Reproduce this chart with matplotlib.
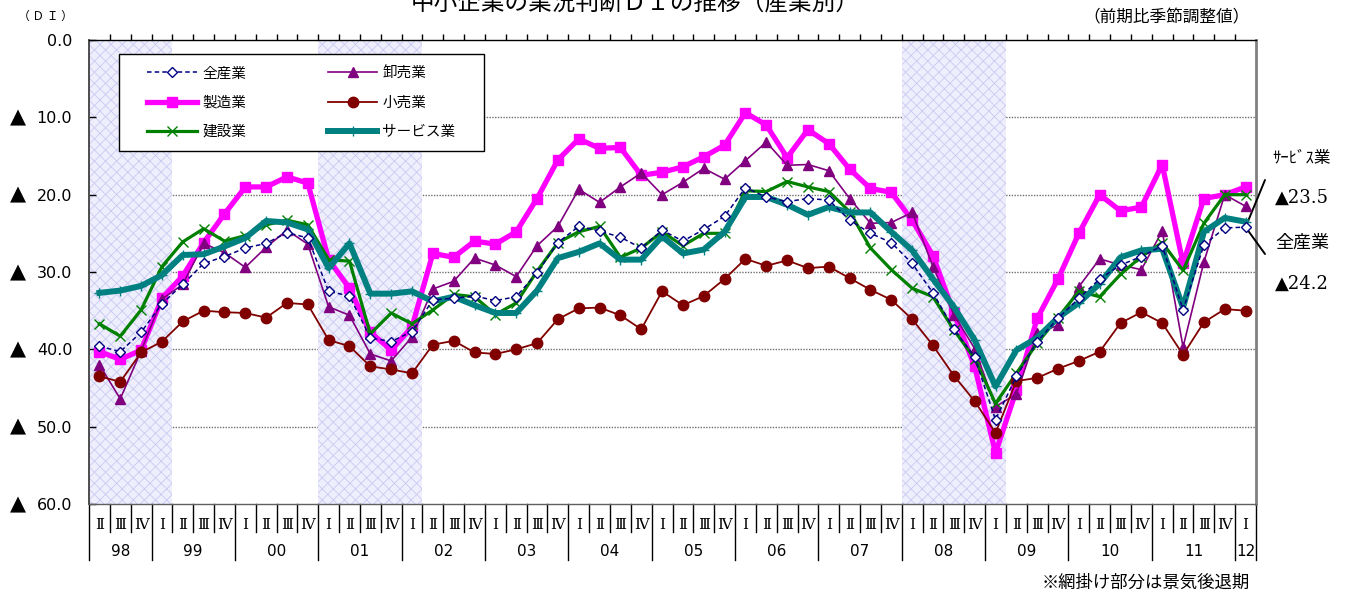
import matplotlib
matplotlib.use("Agg")
import matplotlib.pyplot as plt
import matplotlib.transforms as mtransforms
from matplotlib.patches import Rectangle
import numpy as np

plt.rcParams["font.family"] = ["Noto Sans CJK JP", "DejaVu Sans"]
plt.rcParams["hatch.linewidth"] = 0.6

# ---- categories: 1998 Q2 .. 2012 Q1 ----
year_labels = ["98", "99", "00", "01", "02", "03", "04", "05", "06", "07",
               "08", "09", "10", "11", "12"]
quarters_per_year = [3, 4, 4, 4, 4, 4, 4, 4, 4, 4, 4, 4, 4, 4, 1]
first_quarter = 2
quarter_numerals = ["Ⅰ", "Ⅱ", "Ⅲ", "Ⅳ"]

# recession periods (year label, quarter) .. (year label, quarter), inclusive
recessions = [("98", 2, "99", 1), ("01", 1, "02", 1), ("08", 1, "09", 1)]

# ---- business condition DI (seasonally adjusted) ----
all_industries = [39.6, 40.3, 37.8, 34.1, 31.6, 28.9, 28.0, 26.9, 26.3, 24.9,
                  25.6, 32.5, 33.1, 38.5, 39.0, 37.7, 33.6, 33.4, 33.1, 33.7,
                  33.2, 30.1, 26.2, 24.1, 24.7, 25.5, 26.9, 24.6, 26.0, 24.5,
                  22.8, 19.1, 20.3, 20.9, 20.5, 20.7, 23.3, 25.0, 26.2, 28.9,
                  32.7, 37.4, 41.0, 49.1, 43.5, 39.0, 36.0, 33.4, 30.9, 29.1,
                  28.0, 26.6, 34.9, 26.5, 24.3, 24.2]
manufacturing = [40.3, 41.3, 40.1, 33.4, 30.5, 26.2, 22.5, 19.0, 19.0, 17.7,
                 18.5, 28.4, 32.1, 37.8, 40.1, 37.1, 27.6, 28.1, 26.0, 26.4,
                 24.8, 20.5, 15.5, 12.8, 14.0, 13.9, 17.5, 17.1, 16.4, 15.1,
                 13.6, 9.4, 11.0, 15.2, 11.6, 13.4, 16.7, 19.2, 19.7, 23.3,
                 27.9, 35.3, 42.2, 53.4, 45.3, 36.0, 30.9, 25.0, 20.0, 22.1,
                 21.6, 16.1, 28.9, 20.5, 20.0, 19.0]
construction = [36.7, 38.3, 34.9, 29.3, 26.1, 24.4, 26.0, 25.3, 23.9, 23.3,
                23.9, 28.4, 28.6, 38.0, 35.3, 36.7, 34.9, 32.9, 33.2, 35.5,
                34.0, 29.9, 26.2, 24.8, 24.1, 28.1, 26.9, 24.8, 26.6, 25.0,
                25.0, 19.5, 19.6, 18.3, 19.0, 19.6, 22.2, 26.9, 29.7, 32.1,
                33.2, 37.5, 41.2, 47.0, 43.1, 39.2, 35.9, 32.5, 33.2, 30.3,
                28.0, 26.2, 29.8, 23.7, 20.0, 20.0]
wholesale = [42.0, 46.4, 40.2, 33.5, 31.6, 26.3, 27.5, 29.4, 26.8, 24.6,
             26.4, 34.5, 35.6, 40.6, 41.5, 38.4, 32.2, 31.2, 28.2, 29.1,
             30.6, 26.6, 24.1, 19.3, 21.0, 19.0, 17.2, 20.0, 18.4, 16.6,
             18.0, 15.6, 13.2, 16.2, 16.1, 16.9, 20.5, 23.7, 23.6, 22.3,
             29.3, 35.5, 39.9, 47.4, 45.8, 37.9, 36.9, 31.9, 28.3, 29.1,
             29.7, 24.7, 39.7, 28.7, 20.0, 21.5]
retail = [43.5, 44.2, 40.4, 39.0, 36.4, 35.0, 35.2, 35.3, 35.9, 34.0,
          34.2, 38.8, 39.6, 42.2, 42.6, 43.1, 39.4, 38.9, 40.4, 40.6,
          40.0, 39.2, 36.1, 34.7, 34.6, 35.6, 37.4, 32.5, 34.3, 33.1,
          30.9, 28.3, 29.2, 28.5, 29.5, 29.3, 30.8, 32.3, 33.6, 36.1,
          39.5, 43.4, 46.7, 50.8, 44.1, 43.7, 42.5, 41.5, 40.3, 36.6,
          35.2, 36.6, 40.7, 36.5, 34.8, 35.0]
services = [32.7, 32.4, 31.8, 30.4, 27.8, 27.7, 26.7, 25.6, 23.4, 23.6,
            24.5, 29.5, 26.3, 32.8, 32.8, 32.5, 33.8, 33.2, 34.3, 35.3,
            35.3, 32.4, 28.2, 27.4, 26.3, 28.4, 28.4, 25.4, 27.6, 27.1,
            24.8, 20.3, 20.3, 21.3, 22.6, 21.6, 22.3, 22.3, 24.8, 27.2,
            30.9, 34.5, 38.8, 44.8, 40.1, 38.5, 35.9, 34.0, 31.5, 28.1,
            27.2, 27.0, 34.6, 24.8, 23.0, 23.5]

y_ticks = [0, 10, 20, 30, 40, 50, 60]

# ---- category positions ----
cat_year, cat_quarter = [], []
q = first_quarter
for yl, cnt in zip(year_labels, quarters_per_year):
    for _ in range(cnt):
        cat_year.append(yl)
        cat_quarter.append(q)
        q = q % 4 + 1
n = len(cat_year)
x = np.arange(n)


def cat_index(year, quarter):
    for i, (yy, qq) in enumerate(zip(cat_year, cat_quarter)):
        if yy == year and qq == quarter:
            return i
    raise ValueError


W, H = 1364, 596
fig = plt.figure(figsize=(W / 100, H / 100), dpi=100)
fig.patch.set_facecolor("white")
ax = fig.add_axes([89 / W, 1 - 504 / H, (1256 - 89) / W, (504 - 40) / H])
ax.set_xlim(-0.5, n - 0.5)
ax.set_ylim(60, 0)

# horizontal dotted grid
for v in y_ticks[1:-1]:
    ax.axhline(v, color="#707070", lw=1.0, ls=(0, (1, 1)), zorder=0.5)

# recession shading
for y0, q0, y1, q1 in recessions:
    a, b = cat_index(y0, q0), cat_index(y1, q1)
    ax.axvspan(a - 0.5, b + 0.5, facecolor="#eeeefd", edgecolor="#cacaf2",
               hatch="xxx", lw=0, zorder=1)

# series
h_all, = ax.plot(x, all_industries, color="#000080", lw=1.1, ls=(0, (3, 2)),
                 marker="D", ms=5, mfc="white", mec="#000080", mew=1.0,
                 zorder=8, label="全産業")
h_mfg, = ax.plot(x, manufacturing, color="#ff00ff", lw=3.8, marker="s",
                 ms=7.5, mfc="#ff00ff", mec="#ff00ff", zorder=3, label="製造業")
h_con, = ax.plot(x, construction, color="#008000", lw=2.3, marker="x",
                 ms=7, mew=1.0, mec="#008000", zorder=5, label="建設業")
h_whl, = ax.plot(x, wholesale, color="#800080", lw=1.2, marker="^", ms=7,
                 mfc="#800080", mec="#800080", zorder=4, label="卸売業")
h_ret, = ax.plot(x, retail, color="#800000", lw=1.3, marker="o", ms=7.5,
                 mfc="#800000", mec="#800000", zorder=7, label="小売業")
h_srv, = ax.plot(x, services, color="#008080", lw=4.3, marker="+", ms=7,
                 mew=1.0, mec="#008080", zorder=6, label="サービス業")

# axes cosmetics
ax.set_yticks(y_ticks)
ax.set_yticklabels([f"{v:.1f}" for v in y_ticks], fontsize=11.5,
                   family="DejaVu Sans")
ax.tick_params(axis="y", direction="in", length=5, width=1, pad=12,
               colors="black")
ax.set_xticks(np.arange(0.5, n - 0.5, 1.0))
ax.tick_params(axis="x", top=True, bottom=False, labeltop=False,
               labelbottom=False, direction="out", length=4, width=1)
ax.spines["top"].set_color("black")
ax.spines["top"].set_linewidth(1.0)
ax.spines["left"].set_color("#404040")
ax.spines["left"].set_linewidth(1.3)
ax.spines["right"].set_color("#808080")
ax.spines["right"].set_linewidth(2.0)
ax.spines["bottom"].set_color("#606060")
ax.spines["bottom"].set_linewidth(1.0)

# negative-sign triangles beside the y tick labels
tri_tr = mtransforms.blended_transform_factory(fig.transFigure, ax.transData)
for v in y_ticks[1:]:
    fig.text(18 / W, v, "▲", transform=tri_tr, ha="center", va="center",
             fontsize=15, family="DejaVu Sans")

# legend with a square frame
rx0, rx1 = (119 - 89) / 1167, (484 - 89) / 1167
ry1, ry0 = 1 - (54 - 40) / 464, 1 - (151 - 40) / 464
ax.add_patch(Rectangle((rx0, ry0), rx1 - rx0, ry1 - ry0, transform=ax.transAxes,
                       facecolor="white", edgecolor="black", lw=1.0, zorder=20))
leg = ax.legend(handles=[h_all, h_mfg, h_con, h_whl, h_ret, h_srv], ncol=2,
                loc="center", bbox_to_anchor=((rx0 + rx1) / 2, (ry0 + ry1) / 2),
                frameon=False, fontsize=10.5, handlelength=3.4,
                handletextpad=0.35, columnspacing=5.6, labelspacing=1.05,
                borderpad=0, numpoints=1)
leg.set_zorder(21)

# category table under the plot
btr = mtransforms.blended_transform_factory(ax.transData, ax.transAxes)
ah = 464.0
y_q = -(525 - 504) / ah
y_y = -(552 - 504) / ah
y_qline = -(532 - 504) / ah
y_yline = -(560 - 504) / ah
for i in range(n):
    ax.text(i, y_q, quarter_numerals[cat_quarter[i] - 1], transform=btr,
            ha="center", va="center", fontsize=11,
            family=["DejaVu Serif", "Noto Sans CJK JP"], clip_on=False)
for k in range(n + 1):
    bx = k - 0.5
    long_line = k == 0 or k == n or cat_quarter[k] == 1
    ax.plot([bx, bx], [0, y_yline if long_line else y_qline], transform=btr,
            color="black", lw=1.0, clip_on=False)
start = 0
for yl, cnt in zip(year_labels, quarters_per_year):
    ax.text(start + (cnt - 1) / 2, y_y, yl, transform=btr, ha="center",
            va="center", fontsize=11, family="DejaVu Sans", clip_on=False)
    start += cnt

# titles and notes
fig.text(635 / W, 1 - 3 / H, "中小企業の業況判断ＤＩの推移（産業別）",
         ha="center", va="center", fontsize=17)
fig.text(45 / W, 1 - 16 / H, "（ Ｄ Ｉ ）", ha="center", va="center",
         fontsize=8.5)
fig.text(1250 / W, 1 - 18 / H, "（前期比季節調整値）", ha="right", va="center",
         fontsize=12)
fig.text(1250 / W, 1 - 583 / H, "※網掛け部分は景気後退期", ha="right",
         va="center", fontsize=12.5)

# end-point callouts
fig.text(1272 / W, 1 - 158 / H, "ｻｰﾋﾞｽ業", ha="left", va="center", fontsize=12)
fig.text(1275 / W, 1 - 198 / H, f"▲{services[-1]:.1f}", ha="left",
         va="center", fontsize=13, family=["DejaVu Serif", "DejaVu Sans"])
fig.text(1275 / W, 1 - 243 / H, "全産業", ha="left", va="center", fontsize=13)
fig.text(1275 / W, 1 - 284 / H, f"▲{all_industries[-1]:.1f}", ha="left",
         va="center", fontsize=13, family=["DejaVu Serif", "DejaVu Sans"])
for ty in (180, 254):
    ax.annotate("", xy=(n - 1, all_industries[-1]), xycoords="data",
                xytext=(1265, H - ty), textcoords="figure pixels",
                arrowprops=dict(arrowstyle="-", color="black", lw=1.4,
                                shrinkA=0, shrinkB=0), annotation_clip=False)

fig.savefig("out.png", dpi=100, facecolor="white")
